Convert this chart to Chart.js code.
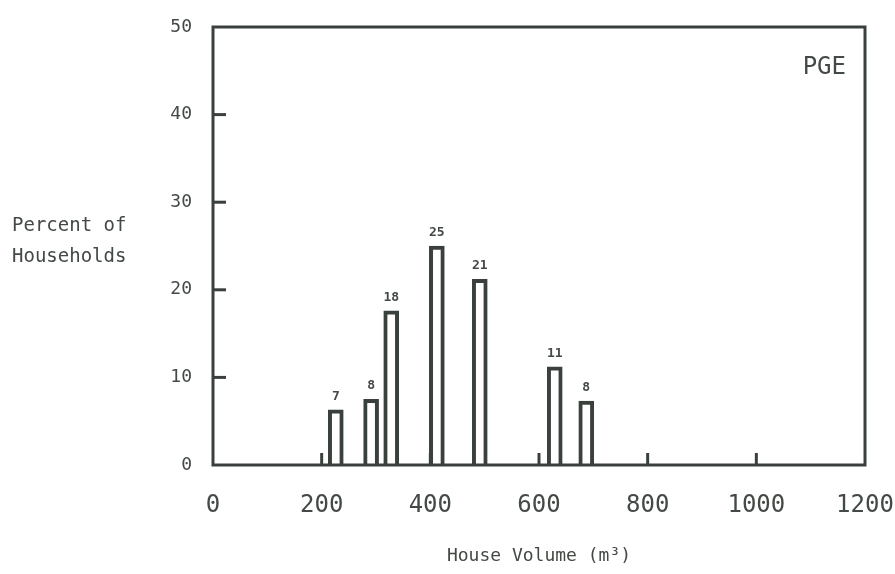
<!DOCTYPE html>
<html>
<head>
<meta charset="utf-8">
<script src="https://cdn.jsdelivr.net/npm/chart.js@4.4.0/dist/chart.umd.min.js"></script>
<style>
  html, body { margin: 0; padding: 0; background: #fff; }
  #wrap { width: 895px; height: 574px; }
</style>
</head>
<body>
<div id="wrap"><canvas id="chart" width="895" height="574"></canvas></div>
<script>
// valores
const volumes = [226, 291, 328, 412, 491, 629, 687];
const percents = [6.3, 7.5, 17.6, 25.0, 21.2, 11.2, 7.3];
const barLabels = ['7', '8', '18', '25', '21', '11', '8'];
const xTicks = [0, 200, 400, 600, 800, 1000, 1200];
const yTicks = [0, 10, 20, 30, 40, 50];
const innerXTicks = [200, 400, 600, 800, 1000];
const innerYTicks = [10, 20, 30, 40];
const yTitle = ['Percent of', 'Households'];
const xTitle = 'House Volume (m\u00b3)';
const tag = 'PGE';

const ink = '#3a413c';
const textInk = '#434944';
const mono = "'DejaVu Sans Mono', 'Liberation Mono', monospace";

// moldura, marcas internas, rótulos das barras e textos extras
const decorations = {
    id: 'decorations',
    afterDatasetsDraw(chart) {
        const ctx = chart.ctx;
        const area = chart.chartArea;
        const xs = chart.scales.x;
        const ys = chart.scales.y;
        ctx.save();

        ctx.strokeStyle = ink;
        ctx.lineWidth = 3;
        ctx.strokeRect(area.left, area.top, area.right - area.left, area.bottom - area.top);

        innerXTicks.forEach(v => {
            const px = xs.getPixelForValue(v);
            ctx.beginPath();
            ctx.moveTo(px, area.bottom);
            ctx.lineTo(px, area.bottom - 12);
            ctx.stroke();
        });
        innerYTicks.forEach(v => {
            const py = ys.getPixelForValue(v);
            ctx.beginPath();
            ctx.moveTo(area.left, py);
            ctx.lineTo(area.left + 13, py);
            ctx.stroke();
        });

        ctx.fillStyle = textInk;
        ctx.font = 'bold 13px ' + mono;
        ctx.textAlign = 'center';
        ctx.textBaseline = 'bottom';
        const meta = chart.getDatasetMeta(0);
        meta.data.forEach((bar, i) => {
            ctx.fillText(barLabels[i], bar.x, bar.y - 7);
        });

        ctx.font = '19px ' + mono;
        ctx.textAlign = 'left';
        ctx.textBaseline = 'middle';
        ctx.fillText(yTitle[0], 12, 226);
        ctx.fillText(yTitle[1], 12, 257);

        ctx.font = '24px ' + mono;
        ctx.textAlign = 'right';
        ctx.fillText(tag, area.right - 19, area.top + 41);

        ctx.restore();
    }
};

const ctx = document.getElementById('chart').getContext('2d');
new Chart(ctx, {
    type: 'bar',
    data: {
        datasets: [{
            data: volumes.map((v, i) => ({ x: v, y: percents[i] })),
            backgroundColor: '#ffffff',
            borderColor: ink,
            borderWidth: 4,
            barThickness: 15
        }]
    },
    options: {
        responsive: false,
        animation: false,
        devicePixelRatio: 1,
        layout: { padding: { left: 0, right: 30, top: 27, bottom: 0 } },
        plugins: {
            legend: { display: false },
            tooltip: { enabled: false }
        },
        scales: {
            x: {
                type: 'linear',
                offset: false,
                min: 0,
                max: 1200,
                afterBuildTicks: scale => { scale.ticks = xTicks.map(v => ({ value: v })); },
                afterFit: scale => {
                    scale.height = 109;
                    scale.paddingLeft = 0;
                    scale.paddingRight = 0;
                },
                grid: { display: false, drawTicks: false, offset: false },
                border: { display: false },
                ticks: {
                    color: textInk,
                    font: { family: mono, size: 24 },
                    padding: 26,
                    maxRotation: 0,
                    autoSkip: false,
                    callback: v => String(v)
                },
                title: {
                    display: true,
                    text: xTitle,
                    color: textInk,
                    font: { family: mono, size: 18 },
                    padding: { top: 0, bottom: 7 }
                }
            },
            y: {
                min: 0,
                max: 50,
                afterBuildTicks: scale => { scale.ticks = yTicks.map(v => ({ value: v })); },
                afterFit: scale => {
                    scale.width = 213;
                    scale.paddingTop = 0;
                    scale.paddingBottom = 0;
                },
                grid: { display: false, drawTicks: false },
                border: { display: false },
                ticks: {
                    color: textInk,
                    font: { family: mono, size: 18 },
                    padding: 21,
                    callback: v => String(v)
                }
            }
        }
    },
    plugins: [decorations]
});
</script>
</body>
</html>
